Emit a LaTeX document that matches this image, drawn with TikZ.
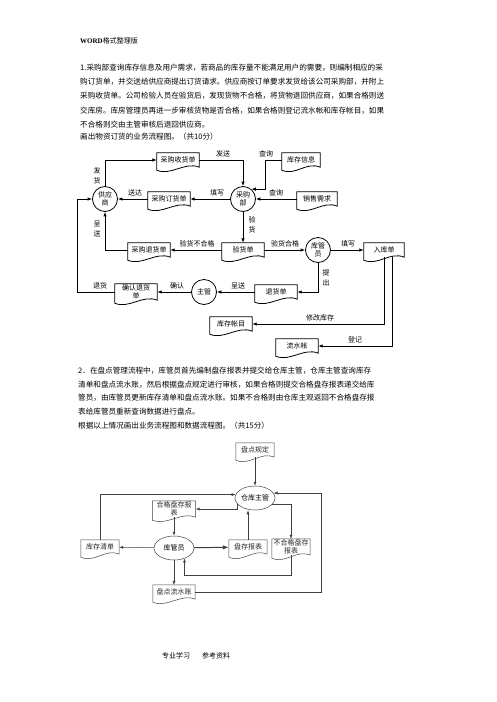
\documentclass[tikz,border=0pt]{standalone}
\usepackage{fontspec}
\setmainfont{Noto Sans CJK SC}
\newfontfamily\latinserif{Liberation Serif}
\usetikzlibrary{shapes.geometric, positioning, arrows.meta, calc}

\newcommand{\diafont}{\fontsize{7}{8.5}\selectfont}
\newcommand{\vertfont}{\fontsize{7}{10}\selectfont}
\newcommand{\parafont}{\fontsize{7.6}{10}\selectfont}
\newcommand{\hdrfont}{\fontsize{7}{8}\selectfont}
% document symbol: flat top, wavy bottom
\newcommand{\docshape}[2][docl]{%
  \draw[#1] ($(#2.south west)+(0,3)$) -- (#2.north west) -- (#2.north east) -- (#2.south east)
    .. controls +(-14,-6) and +(14,6) .. ($(#2.south west)+(0,3)$) -- cycle;}

\begin{document}
\begin{tikzpicture}[x=1pt, y=-1pt,
    every node/.style={font=\diafont},
    para/.style={anchor=west, inner sep=0pt, font=\parafont},
    proc/.style={circle, draw, line width=0.8pt, minimum size=25pt, inner sep=0pt, align=center},
    docbox/.style={minimum width=42pt, minimum height=14pt, inner sep=0pt, align=center},
    docl/.style={line width=0.8pt},
    lbl/.style={inner sep=1pt},
    vlbl/.style={inner sep=1pt, align=center, font=\vertfont},
    arr/.style={-{Latex[length=4.5pt,width=3.5pt]}, line width=0.8pt},
    role/.style={ellipse, draw=black!75, line width=0.5pt, minimum width=40pt, minimum height=24pt, inner sep=0pt},
    docb/.style={docbox, minimum width=38pt, text=black!85},
    docl2/.style={line width=0.5pt, black!75},
    arrb/.style={-{Latex[length=4pt,width=3pt]}, line width=0.5pt, black!75}
  ]
  \useasboundingbox (0,0) rectangle (496,702);

  % header and question 1
  \node[anchor=west, inner sep=0pt, font=\hdrfont] (hdr) at (80,41) {{\latinserif\bfseries WORD}格式整理版};
  \node[para] (q1a) at (80,68) {1.采购部查询库存信息及用户需求，若商品的库存量不能满足用户的需要，则编制相应的采};
  \node[para] (q1b) at (80,82) {购订货单，并交送给供应商提出订货请求。供应商按订单要求发货给该公司采购部，并附上};
  \node[para] (q1c) at (80,96) {采购收货单。公司检验人员在验货后，发现货物不合格，将货物退回供应商，如果合格则送};
  \node[para] (q1d) at (80,111) {交库房。库房管理员再进一步审核货物是否合格，如果合格则登记流水帐和库存帐目，如果};
  \node[para] (q1e) at (80,125) {不合格则交由主管审核后退回供应商。};
  \node[para] (q1f) at (80,137) {画出物资订货的业务流程图。（共10分）};

  % diagram 1
  \node[proc] (gys) at (105,199) {供应\\商};
  \node[proc] (cgb) at (243,199) {采购\\部};
  \node[proc] (kgy) at (318,250) {库管\\员};
  \node[proc] (zg) at (204,292) {主管};

  \node[docbox] (cgsh) at (178,160) {采购收货单};
  \node[docbox] (cgdh) at (169,199) {采购订货单};
  \node[docbox, minimum width=38pt] (kcxx) at (301,160) {库存信息};
  \node[docbox, minimum width=40pt] (xsxq) at (317,199) {销售需求};
  \node[docbox] (ysd) at (243,250) {验货单};
  \node[docbox] (cgth) at (149,250) {采购退货单};
  \node[docbox, minimum width=40pt] (rkd) at (384,250) {入库单};
  \node[docbox] (thd) at (276,292) {退货单};
  \node[docbox, minimum height=16pt] (qrth) at (136,292) {确认退货\\单};
  \node[docbox] (kczm) at (231,324) {库存帐目};
  \node[docbox] (lsz) at (297,346) {流水帐};
  \foreach \d in {cgsh,cgdh,kcxx,xsxq,ysd,cgth,rkd,thd,qrth,kczm,lsz} {\docshape{\d}}

  \draw[arr] (gys) |- (cgsh);
  \draw[arr] (cgsh) -| (cgb);
  \draw[arr] (cgb) -- (cgdh);
  \draw[arr] (cgdh) -- (gys);
  \draw[arr] (kcxx) -- ++(-36,0) |- (cgb.50);
  \draw[arr] (xsxq) -- (cgb);
  \draw[arr] (cgb) -- (ysd);
  \draw[arr] (ysd) -- (cgth);
  \draw[arr] (cgth) -| (gys);
  \draw[arr] (ysd) -- (kgy);
  \draw[arr] (kgy) -- (rkd);
  \draw[arr] (kgy) |- (thd);
  \draw[arr] (thd) -- (zg);
  \draw[arr] (zg) -- (qrth);
  \draw[arr] (qrth) -- ++(-59,0) |- (gys);
  \draw[arr] (rkd.south) |- (kczm);
  \draw[arr] ([xshift=8pt]rkd.south) |- (lsz);

  \node[lbl] (tFs) at (223,154) {发送};
  \node[vlbl] (tFh) at (97,176) {发\\货};
  \node[lbl] (tSd) at (135,193) {送达};
  \node[lbl] (tTx) at (217,193) {填写};
  \node[lbl] (tCx1) at (266,154) {查询};
  \node[lbl] (tCx2) at (276,193) {查询};
  \node[vlbl] (tYh) at (252,225) {验\\货};
  \node[vlbl] (tCs1) at (97,229) {呈\\送};
  \node[lbl] (tBhg) at (197,244) {验货不合格};
  \node[lbl] (tHg) at (285,244) {验货合格};
  \node[lbl] (tTx2) at (348,244) {填写};
  \node[vlbl] (tTc) at (326,278) {提\\出};
  \node[lbl] (tCs2) at (238,286) {呈送};
  \node[lbl] (tQr) at (177,286) {确认};
  \node[lbl] (tTh) at (100,286) {退货};
  \node[lbl] (tXg) at (320,318) {修改库存};
  \node[lbl] (tDj) at (355,340) {登记};

  % question 2
  \node[para] (q2a) at (78,371) {2．在盘点管理流程中，库管员首先编制盘存报表并提交给仓库主管，仓库主管查询库存};
  \node[para] (q2b) at (78,385) {清单和盘点流水账，然后根据盘点规定进行审核，如果合格则提交合格盘存报表递交给库};
  \node[para] (q2c) at (78,398) {管员，由库管员更新库存清单和盘点流水账。如果不合格则由仓库主观返回不合格盘存报};
  \node[para] (q2d) at (78,412) {表给库管员重新查询数据进行盘点。};
  \node[para] (q2e) at (78,426) {根据以上情况画出业务流程图和数据流程图。（共15分）};

  % diagram 2
  \node[docb] (pdgd) at (255,450) {盘点规定};
  \node[role] (ckzg) at (255,498) {仓库主管};
  \node[docb, minimum width=43pt, minimum height=16pt] (hgpc) at (174,509) {合格盘存报\\表};
  \node[role] (kgy2) at (174,548) {库管员};
  \node[docb] (kcqd) at (100,547) {库存清单};
  \node[docb] (pcbb) at (248,547) {盘存报表};
  \node[docb, minimum height=16pt] (bhg) at (291,547) {不合格盘存\\报表};
  \node[docb, minimum width=42pt] (pdls) at (174,592) {盘点流水账};
  \foreach \d in {pdgd,hgpc,kcqd,pcbb,bhg,pdls} {\docshape[docl2]{\d}}

  \draw[arrb] (pdgd) -- (ckzg);
  \draw[arrb] (kcqd) |- (ckzg.170);
  \draw[arrb] (ckzg.200) |- (hgpc);
  \draw[arrb] (hgpc) -- (kgy2);
  \draw[arrb] (kgy2) -- (kcqd);
  \draw[arrb, line width=1pt, -{Latex[length=6pt,width=4.5pt]}] (kgy2) -- (pcbb);
  \draw[arrb] (pcbb.north) -- (pcbb.north |- ckzg.south);
  \draw[arrb] (ckzg.340) -| (bhg);
  \draw[arrb] (bhg.south) -- ++(0,20) -| (kgy2.315);
  \draw[arrb] (kgy2) -- (pdls);
  \draw[arrb] (pdls) -- ++(147,0) |- (ckzg.15);

  % footer
  \node[anchor=west, inner sep=0pt, font=\hdrfont] (ftr) at (162,656) {专业学习\hspace{12pt}参考资料};
\end{tikzpicture}
\end{document}
